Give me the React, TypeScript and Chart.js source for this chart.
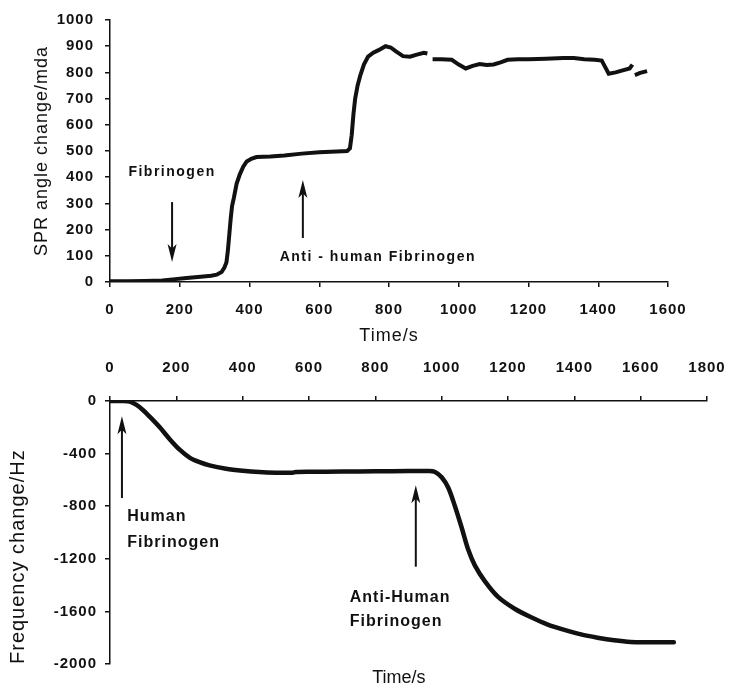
import React, { useEffect, useRef } from "react";
import { Chart, registerables } from "chart.js";

Chart.register(...registerables);

// ---- Top panel: SPR angle change vs time ----
const sprTime = [
  0, 50, 100, 150, 180, 220, 260, 290, 306, 320, 328, 334, 338, 342, 346, 350, 355, 363, 372, 382,
  392, 405, 420, 460, 500, 550, 600, 650, 680, 688, 693, 698, 703, 710, 718, 728, 740, 755, 770, 790,
  805, 820, 840, 860, 880, 900, 910, 918, 925, 950, 980, 1000, 1020, 1040, 1060, 1080, 1100, 1120,
  1140, 1170, 1200, 1250, 1300, 1330, 1360, 1390, 1410, 1420, 1430, 1450, 1470, 1490, 1498, 1502,
  1505, 1520, 1540,
];
const sprAngle: (number | null)[] = [
  3, 3, 4, 6, 10, 15, 20, 24, 28, 38, 55, 75, 120, 180, 240, 290, 320, 375, 410, 440,
  460, 470, 477, 479, 483, 490, 495, 498, 500, 510, 560, 640, 700, 750, 790, 830, 860, 875, 885, 900,
  895, 880, 862, 860, 868, 875, 872, null, 850, 850, 848, 830, 815, 825, 832, 828, 830, 838,
  848, 850, 850, 852, 855, 855, 850, 848, 845, 820, 795, 800, 808, 815, 830, null,
  790, 798, 805,
];
const sprXTicks = [0, 200, 400, 600, 800, 1000, 1200, 1400, 1600];
const sprYTicks = [0, 100, 200, 300, 400, 500, 600, 700, 800, 900, 1000];

// ---- Bottom panel: QCM frequency change vs time ----
const qcmTime = [
  0, 40, 60, 80, 100, 120, 150, 180, 210, 240, 270, 300, 350, 400, 450, 500, 550, 560, 600, 700,
  800, 900, 960, 980, 1000, 1020, 1040, 1060, 1080, 1100, 1130, 1170, 1220, 1270, 1320, 1370, 1420,
  1470, 1520, 1570, 1620, 1700,
];
const qcmFreq = [
  0, 0, -5, -30, -70, -120, -200, -290, -370, -430, -465, -490, -515, -530, -540, -545, -546, -540, -538, -537,
  -535, -533, -533, -540, -580, -660, -800, -960, -1130, -1250, -1370, -1490, -1580, -1645, -1700, -1740, -1775,
  -1800, -1820, -1833, -1835, -1835,
];
const qcmXTicks = [0, 200, 400, 600, 800, 1000, 1200, 1400, 1600, 1800];
const qcmYTicks = [0, -400, -800, -1200, -1600, -2000];

type Note =
  | { kind: "text"; text: string; x: number; y: number; align: CanvasTextAlign; font: string; spacing: string }
  | { kind: "arrow"; x: number; from: number; to: number };

const FAMILY = "'Liberation Sans', Arial, sans-serif";

const topNotes: Note[] = [
  { kind: "text", text: "Fibrinogen", x: 178, y: 420, align: "center", font: `bold 14px ${FAMILY}`, spacing: "1.5px" },
  { kind: "arrow", x: 178, from: 305, to: 76 },
  { kind: "arrow", x: 553, from: 168, to: 389 },
  { kind: "text", text: "Anti - human Fibrinogen", x: 768, y: 93, align: "center", font: `bold 14px ${FAMILY}`, spacing: "1.5px" },
];

const bottomNotes: Note[] = [
  { kind: "arrow", x: 36, from: -738, to: -116 },
  { kind: "text", text: "Human", x: 52, y: -881, align: "left", font: `bold 16px ${FAMILY}`, spacing: "1px" },
  { kind: "text", text: "Fibrinogen", x: 52, y: -1075, align: "left", font: `bold 16px ${FAMILY}`, spacing: "1px" },
  { kind: "arrow", x: 922, from: -1260, to: -640 },
  { kind: "text", text: "Anti-Human", x: 723, y: -1494, align: "left", font: `bold 16px ${FAMILY}`, spacing: "1px" },
  { kind: "text", text: "Fibrinogen", x: 723, y: -1681, align: "left", font: `bold 16px ${FAMILY}`, spacing: "1px" },
];

const INK = "#111";

function makeNotesPlugin(notes: Note[], extra?: { text: string; x: number; yPx: number; font: string }) {
  return {
    id: "notes",
    beforeDraw(chart: any) {
      chart.ctx.letterSpacing = "1px";
    },
    afterDraw(chart: any) {
      const ctx: CanvasRenderingContext2D = chart.ctx;
      const xs = chart.scales.x;
      const ys = chart.scales.y;
      ctx.save();
      ctx.fillStyle = INK;
      ctx.strokeStyle = INK;
      for (const n of notes) {
        if (n.kind === "text") {
          ctx.font = n.font;
          (ctx as any).letterSpacing = n.spacing;
          ctx.textAlign = n.align;
          ctx.textBaseline = "middle";
          ctx.fillText(n.text, xs.getPixelForValue(n.x), ys.getPixelForValue(n.y));
        } else {
          const px = xs.getPixelForValue(n.x);
          const y1 = ys.getPixelForValue(n.from);
          const y2 = ys.getPixelForValue(n.to);
          const dir = y2 > y1 ? 1 : -1;
          const headLen = 18;
          const half = 4.5;
          ctx.lineWidth = 2;
          ctx.beginPath();
          ctx.moveTo(px, y1);
          ctx.lineTo(px, y2 - dir * headLen * 0.6);
          ctx.stroke();
          ctx.beginPath();
          ctx.moveTo(px, y2);
          ctx.lineTo(px - half, y2 - dir * headLen);
          ctx.lineTo(px, y2 - dir * headLen * 0.75);
          ctx.lineTo(px + half, y2 - dir * headLen);
          ctx.closePath();
          ctx.fill();
        }
      }
      if (extra) {
        ctx.font = extra.font;
        (ctx as any).letterSpacing = "0px";
        ctx.textAlign = "center";
        ctx.textBaseline = "middle";
        ctx.fillText(extra.text, xs.getPixelForValue(extra.x), extra.yPx);
      }
      ctx.restore();
    },
  };
}

const tickFont = { family: FAMILY, size: 15, weight: "bold" as const };
const plain = (v: any) => String(v);

function axisGrid() {
  return {
    display: true,
    drawOnChartArea: false,
    drawTicks: true,
    tickLength: 5,
    color: INK,
    lineWidth: 1.5,
  };
}

function fixSize(w?: number, h?: number) {
  return (scale: any) => {
    if (w !== undefined) scale.width = w;
    if (h !== undefined) scale.height = h;
    scale.paddingTop = 0;
    scale.paddingBottom = 0;
    scale.paddingLeft = 0;
    scale.paddingRight = 0;
  };
}

export default function App() {
  const topRef = useRef<HTMLCanvasElement | null>(null);
  const botRef = useRef<HTMLCanvasElement | null>(null);

  useEffect(() => {
    if (!topRef.current || !botRef.current) return;

    const top = new Chart(topRef.current, {
      type: "line",
      data: {
        datasets: [
          {
            data: sprTime.map((t, i) => ({ x: t, y: sprAngle[i] })) as any,
            borderColor: INK,
            backgroundColor: INK,
            borderWidth: 4,
            pointRadius: 0,
            tension: 0,
            spanGaps: false,
          },
        ],
      },
      options: {
        responsive: false,
        animation: false,
        events: [],
        layout: { padding: { left: 0, right: 62, top: 20, bottom: 0 } },
        plugins: { legend: { display: false }, tooltip: { enabled: false } },
        scales: {
          x: {
            type: "linear",
            position: "bottom",
            min: 0,
            max: 1600,
            afterFit: fixSize(undefined, 68),
            afterBuildTicks: (s: any) => {
              s.ticks = sprXTicks.map((v) => ({ value: v }));
            },
            ticks: { font: tickFont, color: INK, padding: 14, autoSkip: false, maxRotation: 0, callback: plain },
            grid: axisGrid(),
            border: { display: true, color: INK, width: 1.5 },
            title: {
              display: true,
              text: "Time/s",
              color: INK,
              font: { family: FAMILY, size: 18 },
              padding: { top: 0, bottom: 3 },
            },
          },
          y: {
            type: "linear",
            min: 0,
            max: 1000,
            afterFit: fixSize(110, undefined),
            afterBuildTicks: (s: any) => {
              s.ticks = sprYTicks.map((v) => ({ value: v }));
            },
            ticks: { font: tickFont, color: INK, padding: 11, autoSkip: false, callback: plain },
            grid: axisGrid(),
            border: { display: true, color: INK, width: 1.5 },
            title: {
              display: true,
              text: "SPR angle change/mda",
              color: INK,
              font: { family: FAMILY, size: 18 },
              padding: { top: 31, bottom: 0 },
            },
          },
        },
      },
      plugins: [makeNotesPlugin(topNotes)],
    } as any);

    const bot = new Chart(botRef.current, {
      type: "line",
      data: {
        datasets: [
          {
            data: qcmTime.map((t, i) => ({ x: t, y: qcmFreq[i] })) as any,
            borderColor: INK,
            backgroundColor: INK,
            borderWidth: 4.5,
            pointRadius: 0,
            tension: 0.3,
            borderCapStyle: "round",
            borderJoinStyle: "round",
          },
        ],
      },
      options: {
        responsive: false,
        animation: false,
        events: [],
        layout: { padding: { left: 0, right: 23, top: 0, bottom: 23 } },
        plugins: { legend: { display: false }, tooltip: { enabled: false } },
        scales: {
          x: {
            type: "linear",
            position: "top",
            min: 0,
            max: 1800,
            afterFit: fixSize(undefined, 51),
            afterBuildTicks: (s: any) => {
              s.ticks = qcmXTicks.map((v) => ({ value: v }));
            },
            ticks: { font: tickFont, color: INK, padding: 19, autoSkip: false, maxRotation: 0, callback: plain },
            grid: axisGrid(),
            border: { display: true, color: INK, width: 1.5 },
          },
          y: {
            type: "linear",
            min: -2000,
            max: 0,
            afterFit: fixSize(110, undefined),
            afterBuildTicks: (s: any) => {
              s.ticks = qcmYTicks.map((v) => ({ value: v }));
            },
            ticks: { font: tickFont, color: INK, padding: 8, autoSkip: false, callback: plain },
            grid: axisGrid(),
            border: { display: true, color: INK, width: 1.5 },
            title: {
              display: true,
              text: "Frequency change/Hz",
              align: "start",
              color: INK,
              font: { family: FAMILY, size: 20 },
              padding: { top: 6, bottom: 0 },
            },
          },
        },
      },
      plugins: [
        makeNotesPlugin(bottomNotes, {
          text: "Time/s",
          x: 871,
          yPx: 328,
          font: `18px ${FAMILY}`,
        }),
      ],
    } as any);

    return () => {
      top.destroy();
      bot.destroy();
    };
  }, []);

  return (
    <div style={{ position: "absolute", left: 0, top: 0, width: 730, height: 687, background: "#fff" }}>
      <canvas ref={topRef} width={730} height={350} style={{ position: "absolute", left: 0, top: 0, display: "block" }} />
      <canvas ref={botRef} width={730} height={337} style={{ position: "absolute", left: 0, top: 350, display: "block" }} />
    </div>
  );
}
